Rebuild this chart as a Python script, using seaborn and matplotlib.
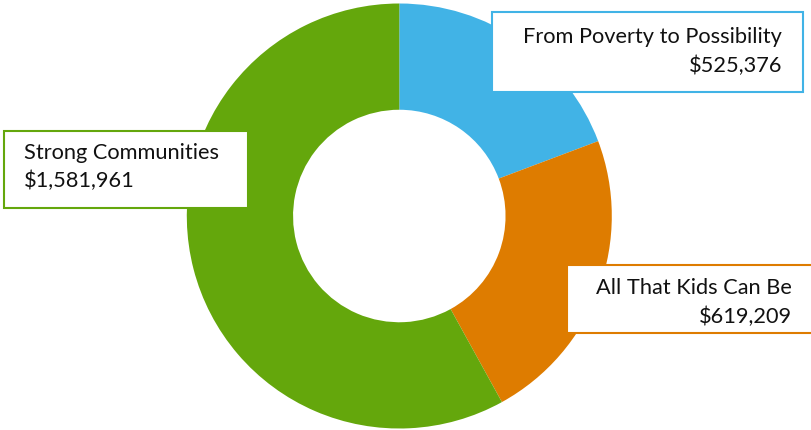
import matplotlib
matplotlib.use('Agg')
import matplotlib.pyplot as plt
import seaborn as sns
from matplotlib.patches import Rectangle

# Data
programs = ['From Poverty to Possibility', 'All That Kids Can Be', 'Strong Communities']
amounts = [525376, 619209, 1581961]
colors = ['#41B3E6', '#DE7C00', '#64A70C']

sns.set_theme(style='white')
plt.rcParams['font.family'] = ['Lato', 'DejaVu Sans']

W, H = 811, 430
fig = plt.figure(figsize=(W / 100, H / 100), dpi=100)
fig.patch.set_facecolor('white')

# donut centred at (399, 216) px from top, radius ~212 px
cx, cy, r = 399.3, 216, 212.5
ax = fig.add_axes([(cx - r) / W, (H - cy - r) / H, 2 * r / W, 2 * r / H])
ax.pie(amounts, colors=colors, startangle=90, counterclock=False, radius=1,
       wedgeprops=dict(width=0.5, linewidth=0))
ax.set_xlim(-1, 1)
ax.set_ylim(-1, 1)
ax.set_aspect('equal')
ax.axis('off')

# label boxes in px from top-left: left, top, right, bottom, text x, baselines, align
boxes = [
    (492, 12, 803, 92, 782, (43, 72), 'right'),
    (567, 265, 815, 333, 792, (294, 323), 'right'),
    (4, 131, 248, 208, 24, (159, 187), 'left'),
]


def fx(x):
    return x / W


def fy(y):
    return 1 - y / H


for (l, t, rr, b, tx, (b1, b2), ha), name, amt, col in zip(boxes, programs, amounts, colors):
    fig.patches.append(Rectangle((fx(l), fy(b)), fx(rr) - fx(l), fy(t) - fy(b),
                                 transform=fig.transFigure, facecolor='white',
                                 edgecolor=col, linewidth=1.5, zorder=5))
    fig.text(fx(tx), fy(b1), name, ha=ha, va='baseline', fontsize=15.7,
             color='#111111', zorder=6)
    fig.text(fx(tx), fy(b2), f'${amt:,}', ha=ha, va='baseline', fontsize=15.7,
             color='#111111', zorder=6)

fig.savefig('out.png', dpi=100, facecolor='white')
